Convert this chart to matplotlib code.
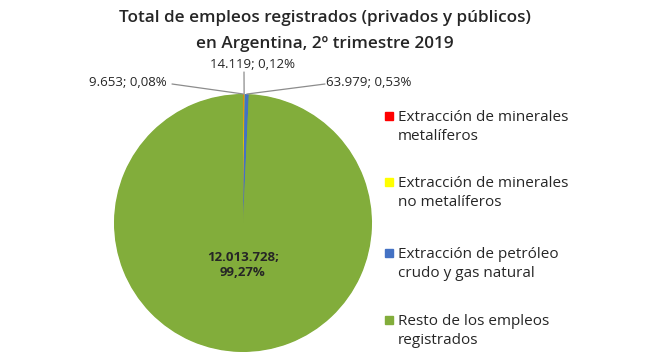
import matplotlib
matplotlib.use("Agg")
import matplotlib.pyplot as plt
import numpy as np

categories = ["Extracción de minerales\nmetalíferos",
              "Extracción de minerales\nno metalíferos",
              "Extracción de petróleo\ncrudo y gas natural",
              "Resto de los empleos\nregistrados"]
values = [9653, 14119, 63979, 12013728]
value_labels = ["9.653", "14.119", "63.979", "12.013.728"]
colors = ["#FF0000", "#FFFF00", "#4472C4", "#82AD3B"]

W, H = 650, 360
fig = plt.figure(figsize=(W/100, H/100), dpi=100)
plt.rcParams['font.family'] = ['Open Sans', 'DejaVu Sans']

def fx(px):
    return px / W
def fy(py):
    return 1 - py / H

cx, cy, r = 243, 223, 129
ax = fig.add_axes([fx(cx - r), fy(cy + r), 2*r/W, 2*r/H])
# background disc to hide antialiasing seams between slices
ax.add_patch(plt.Circle((0, 0), 0.995, color=colors[3], zorder=0, lw=0))
wedges, _ = ax.pie(values, colors=colors, startangle=90, counterclock=False,
                   wedgeprops=dict(linewidth=0))
ax.set_xlim(-1, 1); ax.set_ylim(-1, 1)
ax.set_aspect('equal')
ax.axis('off')

total = sum(values)
pcts = [v / total * 100 for v in values]
texts = [f"{lab}; " + f"{p:.2f}".replace(".", ",") + "%" for lab, p in zip(value_labels, pcts)]

# Small-slice labels with leader lines
label_pos = [(128, 82), (253, 65), (369, 82)]
line_start = [(172, 84), (244, 72), (325, 84)]
for i in range(3):
    w = wedges[i]
    ang = np.deg2rad((w.theta1 + w.theta2) / 2)
    ex, ey = np.cos(ang), np.sin(ang)
    px_, py_ = line_start[i]
    ax.annotate("", xy=(ex, ey), xycoords='data',
                xytext=(fx(px_), fy(py_)), textcoords='figure fraction',
                arrowprops=dict(arrowstyle='-', color='#8C8C8C', lw=0.9,
                                shrinkA=0, shrinkB=0))
    lx, ly = label_pos[i]
    fig.text(fx(lx), fy(ly), texts[i], ha='center', va='center', fontsize=9.5,
             color='#262626')

# Big slice label
fig.text(fx(243), fy(265), value_labels[3] + ";\n" + f"{pcts[3]:.2f}".replace(".", ",") + "%",
         ha='center', va='center', fontsize=9.5, fontweight='bold',
         color='#262626', linespacing=1.3)

# Title
fig.text(fx(325), fy(18), "Total de empleos registrados (privados y públicos)",
         ha='center', va='center', fontsize=12.3, color='#262626', fontweight='semibold')
fig.text(fx(325), fy(44), "en Argentina, 2º trimestre 2019",
         ha='center', va='center', fontsize=12.3, color='#262626', fontweight='semibold')

# Legend
leg_y = [127, 193, 264, 331]
for c, lab, y in zip(colors, categories, leg_y):
    fig.patches.append(plt.Rectangle((fx(385), fy(y - 11 + 4)), 8/W, 8/H,
                                     transform=fig.transFigure, color=c))
    fig.text(fx(398), fy(y), lab, ha='left', va='center', fontsize=11,
             color='#262626', linespacing=1.45)

fig.savefig("out.png", dpi=100, facecolor='white')
